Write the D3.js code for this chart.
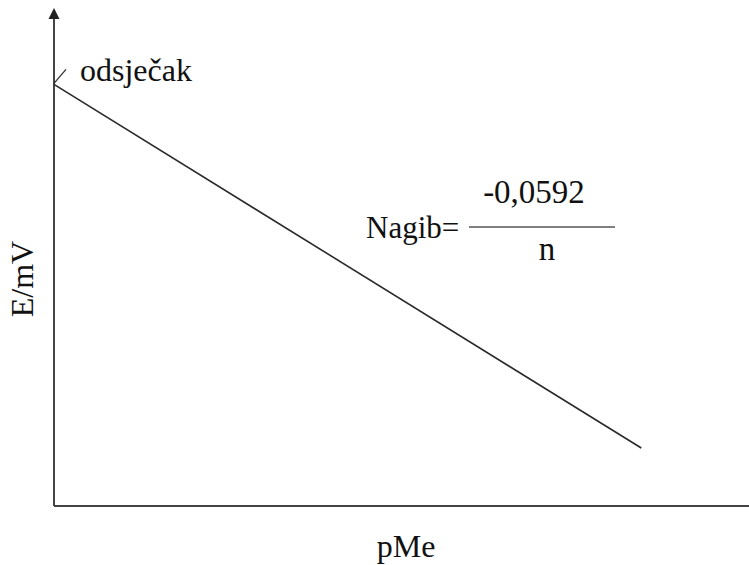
<!DOCTYPE html>
<html>
<head>
<meta charset="utf-8">
<script src="https://cdn.jsdelivr.net/npm/d3@7"></script>
<style>
  body { margin: 0; background: #fff; }
  svg text { font-family: "Times New Roman", Times, "Liberation Serif", "DejaVu Serif", serif; }
</style>
</head>
<body>
<svg id="chart" width="749" height="565"></svg>
<script>
// Linear relation E vs pMe (schematic, no ticks)
const pMe = [0, 8.45];
const E = [8.5, 1.17];
const xDomain = [0, 10];
const yDomain = [0, 10];
const labels = {
  x: "pMe",
  y: "E/mV",
  intercept: "odsječak",
  slope: "Nagib=",
  numerator: "-0,0592",
  denominator: "n",
};

const FONT = "'Times New Roman', Times, 'Liberation Serif', 'DejaVu Serif', serif";

const svg = d3.select("#chart");
const margin = { left: 54, top: 10, right: 0, bottom: 59 };
const W = 749, H = 565;

const x = d3.scaleLinear().domain(xDomain).range([margin.left, W - margin.right]);
const y = d3.scaleLinear().domain(yDomain).range([H - margin.bottom, margin.top]);

const axisColor = "#444";

// axes (plain lines, no ticks)
svg.append("line")
  .attr("x1", x(0)).attr("x2", x(xDomain[1]))
  .attr("y1", y(0)).attr("y2", y(0))
  .attr("stroke", axisColor).attr("stroke-width", 2);

svg.append("line")
  .attr("x1", x(0)).attr("x2", x(0))
  .attr("y1", y(0)).attr("y2", y(yDomain[1]) + 4)
  .attr("stroke", axisColor).attr("stroke-width", 2);

// arrow head on y axis
const tipY = y(yDomain[1]) - 2;
svg.append("path")
  .attr("d", `M${x(0)},${tipY} L${x(0) - 5.5},${tipY + 11} L${x(0) + 5.5},${tipY + 11} Z`)
  .attr("fill", "#222");

// the line
const pts = pMe.map((d, i) => [d, E[i]]);
svg.append("path")
  .datum(pts)
  .attr("d", d3.line().x(d => x(d[0])).y(d => y(d[1])))
  .attr("fill", "none")
  .attr("stroke", "#2a2a2a")
  .attr("stroke-width", 1.6);

// intercept marker
const ix = x(pMe[0]), iy = y(E[0]);
svg.append("line")
  .attr("x1", ix).attr("y1", iy - 1)
  .attr("x2", ix + 12).attr("y2", iy - 15)
  .attr("stroke", "#333").attr("stroke-width", 1.3);

function label(txt, px, py, size, anchor = "start") {
  return svg.append("text")
    .attr("x", px).attr("y", py)
    .attr("font-family", FONT)
    .attr("font-size", size)
    .attr("text-anchor", anchor)
    .attr("fill", "#111")
    .text(txt);
}

label(labels.intercept, 80, 81, 32);

// slope annotation
label(labels.slope, 366, 238, 31);

svg.append("line")
  .attr("x1", 469).attr("x2", 615)
  .attr("y1", 227).attr("y2", 227)
  .attr("stroke", "#555").attr("stroke-width", 1.5);

label(labels.numerator, 534, 203, 33, "middle");
label(labels.denominator, 547, 260, 33, "middle");

// axis titles
label(labels.x, 406, 557, 32, "middle");
label(labels.y, 0, 0, 32, "middle")
  .attr("transform", "translate(33,279) rotate(-90)");
</script>
</body>
</html>
